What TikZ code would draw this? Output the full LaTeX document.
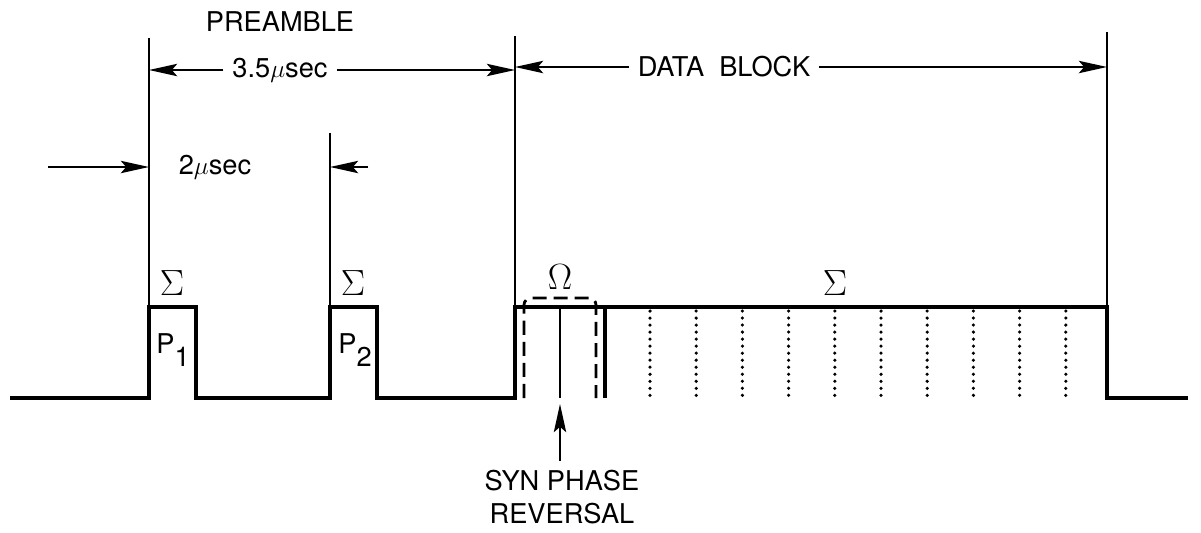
\documentclass[tikz,border=0pt]{standalone}
\usepackage{fontspec}
\setmainfont{TeX Gyre Heros}
\usepackage{amsmath}
\usetikzlibrary{arrows.meta, positioning}

\tikzset{
  wave/.style={line width=2pt, line join=miter},
  guide/.style={line width=1.1pt},
  dimarrow/.style={line width=1.2pt, -{Stealth[length=16pt, width=7pt, inset=3pt]}},
  lbl/.style={font=\fontsize{15.5}{15.5}\selectfont, inner sep=5pt},
  sym/.style={font=\fontsize{22}{24}\selectfont, inner sep=0pt},
  bitline/.style={line width=2pt, line cap=round, dash pattern=on 0pt off 4pt},
  markbox/.style={line width=1.6pt, dash pattern=on 8pt off 4pt, rounded corners=4pt}
}
\newcommand{\pulsesub}[1]{\raisebox{-7pt}{#1}}

\begin{document}
\begin{tikzpicture}[x=0.02cm, y=-0.02cm]
  \useasboundingbox (0,0) rectangle (1201,532);

  % Time marks
  \coordinate (m1) at (149,38);
  \coordinate (m2) at (330,133);
  \coordinate (m3) at (515,36);
  \coordinate (m4) at (1107,32);
  \draw[guide] (m1) -- (149,307);
  \draw[guide] (m2) -- (330,307);
  \draw[guide] (m3) -- (515,307);
  \draw[guide] (m4) -- (1107,307);

  % Preamble
  \node[lbl] (preamble) at (280,22) {PREAMBLE};
  \node[lbl] (pretime) at (280,70) {3.5$\mu$sec};
  \draw[dimarrow] (pretime.west) -- (pretime.west -| m1);
  \draw[dimarrow] (pretime.east) -- (pretime.east -| m3);

  % Data block
  \node[lbl] (datablk) at (724,67) {DATA\ \ BLOCK};
  \draw[dimarrow] (datablk.west) -- (datablk.west -| m3);
  \draw[dimarrow] (datablk.east) -- (datablk.east -| m4);

  % Pulse spacing
  \node[lbl] (spacing) at (215,167) {2$\mu$sec};
  \coordinate (in1) at (48,167);
  \coordinate (in2) at (368,167);
  \draw[dimarrow] (in1) -- (in1 -| m1);
  \draw[dimarrow] (in2) -- (in2 -| m2);

  % Phase reversal cell and bit cells
  \draw[markbox] (524,398) -- (524,298) -- (596,298) -- (596,398);
  \draw[line width=1.5pt] (560,307) -- (560,398);
  \draw[line width=1.8pt] (605,307) -- (605,398);
  \foreach \i in {0,...,9}
    \draw[bitline] ({650+46.2*\i},311) -- ({650+46.2*\i},396);

  % Waveform
  \draw[wave] (10,398) -- (149,398) -- (149,307) -- (196,307) -- (196,398)
    -- (330,398) -- (330,307) -- (377,307) -- (377,398)
    -- (515,398) -- (515,307) -- (1107,307) -- (1107,398) -- (1188,398);

  % Pulse labels
  \node[sym] (s1) at (172,283) {$\Sigma$};
  \node[sym] (s2) at (353,283) {$\Sigma$};
  \node[sym] (s3) at (835,283) {$\Sigma$};
  \node[sym] (om) at (560,277) {$\Omega$};
  \node[lbl] (p1) at (173,350) {P\pulsesub{1}};
  \node[lbl] (p2) at (355,350) {P\pulsesub{2}};

  % Sync phase reversal
  \coordinate (rev) at (560,404);
  \node[lbl, align=center] (syn) at (562,497) {SYN PHASE\\[3pt]REVERSAL};
  \draw[dimarrow] (syn.north -| rev) -- (rev);
\end{tikzpicture}
\end{document}
